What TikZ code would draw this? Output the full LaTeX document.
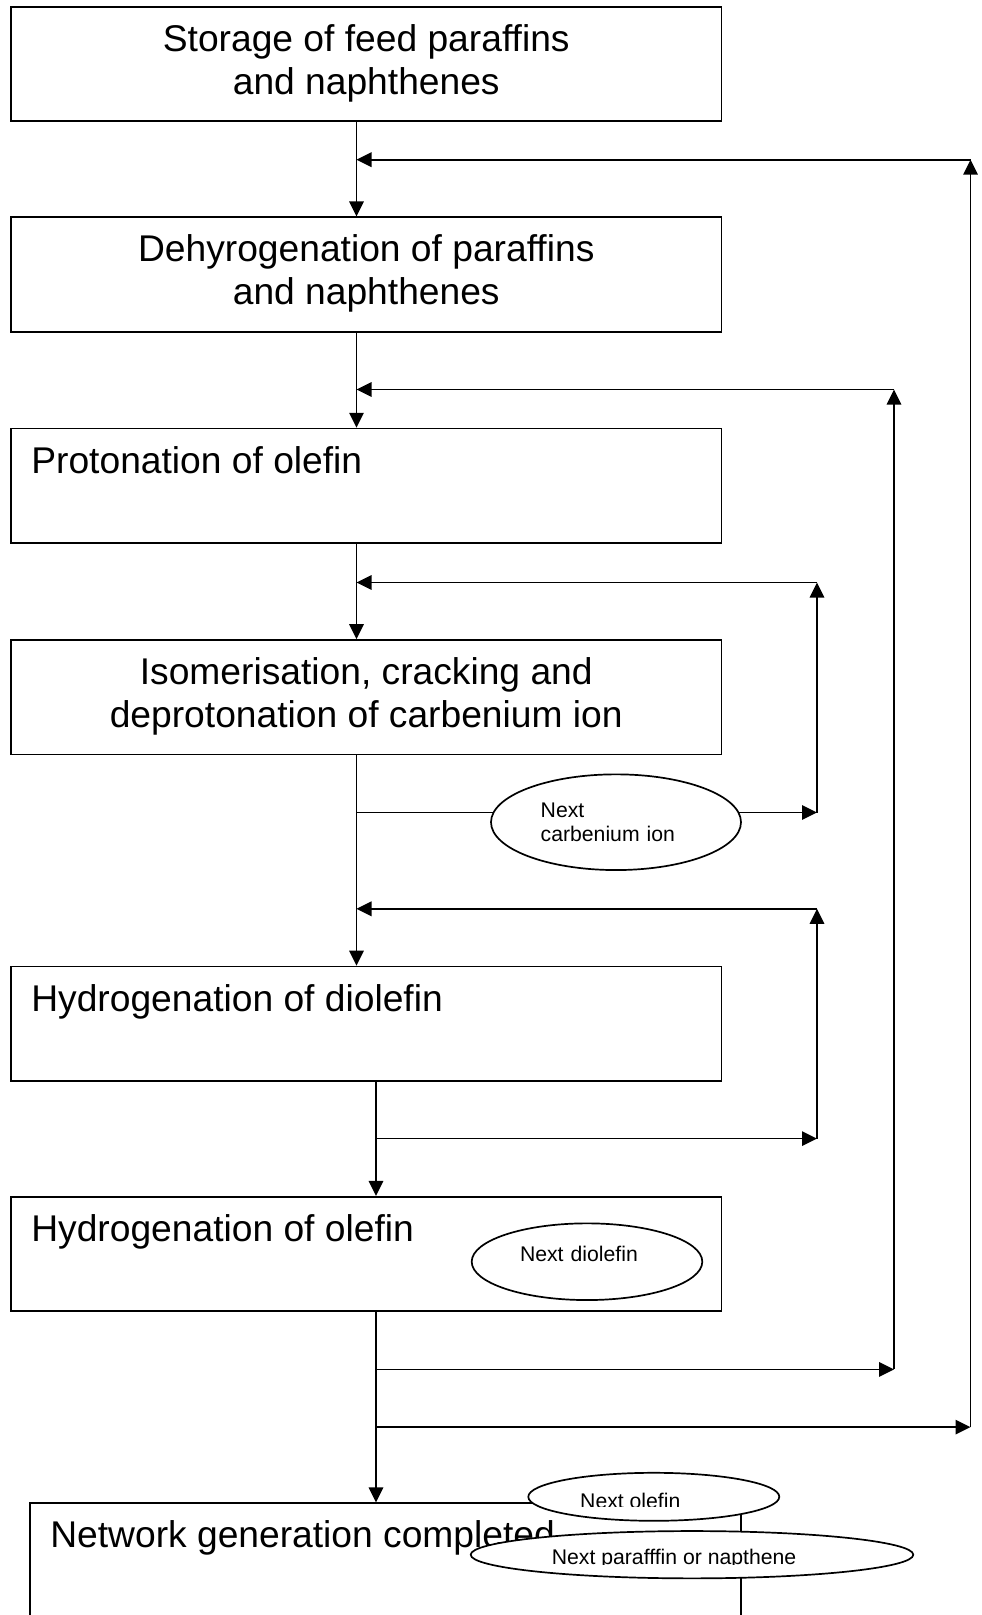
\documentclass[tikz,border=0pt]{standalone}
\usepackage{fontspec}
\setmainfont{Liberation Sans}
\usetikzlibrary{arrows.meta,shapes.geometric,calc}

\begin{document}
\begin{tikzpicture}[x=1pt,y=-1pt,>={Triangle[length=15pt,width=14.5pt]},
    stage/.style={draw,line width=1.7pt,minimum width=710.5pt,minimum height=114.6pt,inner sep=0pt},
    big/.style={font=\fontsize{37.2pt}{43pt}\selectfont,inner sep=0pt,align=center},
    small/.style={font=\fontsize{21.2pt}{24pt}\selectfont,inner sep=0pt},
    blob/.style={draw,ellipse,fill=white,line width=1.7pt,inner sep=0pt},
    flow/.style={->,line width=1.7pt}]
      \useasboundingbox (0,0) rectangle (982,1615);
      \clip (0,0) rectangle (982,1615);
      \node[stage] (storage) at (366.25,64) {};
      \node[stage] (dehyd) at (366.25,274.6) {};
      \node[stage] (proton) at (366.25,485.9) {};
      \node[stage] (isom) at (366.25,697.3) {};
      \node[stage] (hydiol) at (366.25,1023.8) {};
      \node[stage] (hyolef) at (366.25,1254) {};
      \node[stage,minimum width=711pt,minimum height=230pt] (done) at (385.5,1618.3) {};
      \node[big,anchor=base] (tstorage) at ($(storage.north)+(0,88.5)$) {Storage of feed paraffins\\and naphthenes};
      \node[big,anchor=base] (tdehyd) at ($(dehyd.north)+(0,88.5)$) {Dehyrogenation of paraffins\\and naphthenes};
      \node[big,anchor=base west] (tproton) at ($(proton.north west)+(21,45.5)$) {Protonation of olefin};
      \node[big,anchor=base] (tisom) at ($(isom.north)+(0,88)$) {Isomerisation, cracking and\\deprotonation of carbenium ion};
      \node[big,anchor=base west] (thydiol) at ($(hydiol.north west)+(21,45.5)$) {Hydrogenation of diolefin};
      \node[big,anchor=base west] (thyolef) at ($(hyolef.north west)+(21,45.5)$) {Hydrogenation of olefin};
      \node[big,anchor=base west] (tdone) at ($(done.north west)+(21,45.5)$) {Network generation completed};

      \coordinate (spine) at (356.5,0);
      \coordinate (spine2) at (376,0);
      \draw[flow] (storage.south -| spine) -- (dehyd.north -| spine);
      \draw[flow] (dehyd.south -| spine) -- (proton.north -| spine);
      \draw[flow] (proton.south -| spine) -- (isom.north -| spine);
      \draw[flow] (isom.south -| spine) -- (hydiol.north -| spine);
      \draw[flow] (hydiol.south -| spine2) -- (hyolef.north -| spine2);
      \draw[flow] (hyolef.south -| spine2) -- (done.north -| spine2);

      \coordinate (loopA) at (970.5,1427.1);
      \coordinate (retA) at (970.5,159.7);
      \coordinate (loopB) at (894,1369.4);
      \coordinate (retB) at (894,389.5);
      \coordinate (loopC) at (817,812.5);
      \coordinate (retC) at (817,582.5);
      \coordinate (loopD) at (817,1138.6);
      \coordinate (retD) at (817,908.8);
      \draw[flow] (spine2 |- loopA) -- (loopA);
      \draw[flow] (loopA) -- (retA);
      \draw[flow] (retA) -- (spine |- retA);
      \draw[flow] (spine2 |- loopB) -- (loopB);
      \draw[flow] (loopB) -- (retB);
      \draw[flow] (retB) -- (spine |- retB);
      \draw[flow] (spine |- loopC) -- (loopC);
      \draw[flow] (loopC) -- (retC);
      \draw[flow] (retC) -- (spine |- retC);
      \draw[flow] (spine2 |- loopD) -- (loopD);
      \draw[flow] (loopD) -- (retD);
      \draw[flow] (retD) -- (spine |- retD);

      \node[blob,small,minimum width=250pt,minimum height=95.7pt,text width=150.6pt,align=left] (ncarb) at (616,822.2) {Next\\carbenium ion};
      \node[blob,small,minimum width=230.6pt,minimum height=76.7pt,text width=134pt,align=left,text height=15.5pt,text depth=15.5pt] (ndiol) at (587,1261.7) {Next diolefin};
      \node[blob,minimum width=251pt,minimum height=48pt] (nolef) at (653.8,1496.8) {};
      \node[blob,minimum width=442.6pt,minimum height=47.3pt] (npara) at (692,1554.7) {};
      \begin{scope}
        \clip (470,1470) rectangle (920,1506.7);
        \node[small,anchor=base west] (tolef) at (580,1508.5) {Next olefin};
      \end{scope}
      \begin{scope}
        \clip (460,1530) rectangle (920,1564.3);
        \node[small,anchor=base west] (tpara) at (551.7,1564.5) {Next parafffin or napthene};
      \end{scope}
    \end{tikzpicture}
\end{document}
